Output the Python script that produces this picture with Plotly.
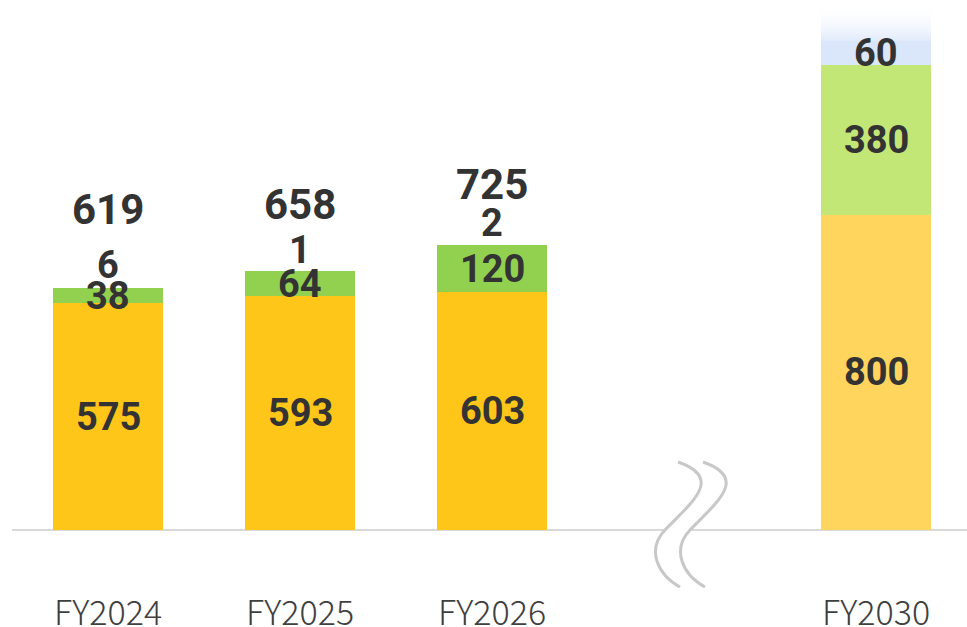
import plotly.graph_objects as go

# ── data ──────────────────────────────────────────────
years   = ["FY2024", "FY2025", "FY2026", "FY2030"]
x_pos   = [0, 1, 2, 4]            # gap at 3 for the axis break
base    = [575, 593, 603, 800]
growth  = [38, 64, 120, 380]
other   = [6, 1, 2, 60]
totals  = [619, 658, 725, None]

# ── style ─────────────────────────────────────────────
BASE_COLORS   = ["#FFC61A", "#FFC61A", "#FFC61A", "#FFD55E"]
GROWTH_COLORS = ["#92D050", "#92D050", "#92D050", "#C3E777"]
OTHER_COLORS  = ["rgba(0,0,0,0)"] * 3 + ["#DAE6FA"]
BAR_W   = 0.573
LABEL_C = "#333333"
SEG_FONT   = dict(family="Roboto", size=38, color=LABEL_C, weight="bold")
TOTAL_FONT = dict(family="Roboto", size=42, color=LABEL_C, weight="bold")

W, H = 967, 627
M_L, M_R, M_T, M_B = 12, 0, 0, 37
PX_PER_UNIT = 0.394
BASE_PX = 530                      # baseline pixel row
Y_TOP = BASE_PX / PX_PER_UNIT
Y_BOT = Y_TOP - (H - M_T - M_B) / PX_PER_UNIT
X_UNIT_PX = 192

fig = go.Figure()
for vals, cols, nm in [(base, BASE_COLORS, "base"),
                       (growth, GROWTH_COLORS, "growth"),
                       (other, OTHER_COLORS, "other")]:
    fig.add_trace(go.Bar(x=x_pos, y=vals, width=BAR_W, name=nm,
                         marker=dict(color=cols, line=dict(width=0)),
                         hoverinfo="skip", showlegend=False))

# faded top on the FY2030 target bar
top30 = base[-1] + growth[-1] + other[-1]
fade_h = 95
xc = x_pos[-1]
fig.add_trace(go.Scatter(
    x=[xc - BAR_W / 2, xc + BAR_W / 2, xc + BAR_W / 2, xc - BAR_W / 2, xc - BAR_W / 2],
    y=[top30, top30, top30 + fade_h, top30 + fade_h, top30],
    mode="lines", line=dict(width=0), fill="toself",
    fillgradient=dict(type="vertical", start=top30, stop=top30 + fade_h,
                      colorscale=[[0, "rgba(218,230,250,0.85)"], [1, "rgba(255,255,255,0)"]]),
    hoverinfo="skip", showlegend=False))

# ── labels ────────────────────────────────────────────
anns = []
TOTAL_SHIFT = [77, 66, 60]
for i, x in enumerate(x_pos):
    anns.append(dict(x=x, y=base[i] / 2, text=str(base[i]), font=SEG_FONT))
    anns.append(dict(x=x, y=base[i] + growth[i] / 2, text=str(growth[i]), font=SEG_FONT))
    top = base[i] + growth[i] + other[i]
    if totals[i] is None:
        anns.append(dict(x=x, y=top - other[i] / 2, text=str(other[i]), font=SEG_FONT))
    else:
        anns.append(dict(x=x, y=top, yshift=21, text=str(other[i]), font=SEG_FONT))
        anns.append(dict(x=x, y=top, yshift=TOTAL_SHIFT[i], text=str(totals[i]), font=TOTAL_FONT))
for a in anns:
    a.update(showarrow=False, xanchor="center", yanchor="middle")

# ── axis break symbol (two S curves) ─────────────────
def pt(px, py):
    return f"{(px - 108) / X_UNIT_PX:.4f},{(BASE_PX - py) / PX_PER_UNIT:.2f}"

def s_curve(dx=0, reverse=False):
    pts = [(678, 462), (724, 478), (692, 502), (665, 530),
           (646, 550), (658, 575), (680, 587)]
    pts = [(x + dx, y) for x, y in pts]
    if reverse:
        pts = pts[::-1]
    return pts

def bezier(p, start=True):
    head = f"M {pt(*p[0])} " if start else f"L {pt(*p[0])} "
    return head + f"C {pt(*p[1])} {pt(*p[2])} {pt(*p[3])} C {pt(*p[4])} {pt(*p[5])} {pt(*p[6])}"

p1 = bezier(s_curve(0))
p2 = bezier(s_curve(25))
fill_path = p1 + " " + bezier(s_curve(25, reverse=True), start=False) + " Z"

shapes = [
    dict(type="path", path=fill_path, xref="x", yref="y",
         fillcolor="white", line=dict(width=0)),
    dict(type="path", path=p1, xref="x", yref="y", line=dict(color="#C8C8C8", width=3)),
    dict(type="path", path=p2, xref="x", yref="y", line=dict(color="#C8C8C8", width=3)),
]

fig.update_layout(
    width=W, height=H,
    barmode="stack",
    plot_bgcolor="white", paper_bgcolor="white",
    margin=dict(l=M_L, r=M_R, t=M_T, b=M_B),
    annotations=anns, shapes=shapes,
    xaxis=dict(range=[-0.5, -0.5 + (W - M_L - M_R) / X_UNIT_PX],
               tickvals=x_pos, ticktext=years, automargin=False,
               tickfont=dict(family="Noto Sans CJK JP Light, Noto Sans CJK JP",
                             size=34, color="#404040", weight=300),
               showgrid=False, zeroline=False, showline=False, ticks=""),
    yaxis=dict(range=[Y_BOT, Y_TOP], showticklabels=False, showgrid=False, automargin=False,
               zeroline=True, zerolinecolor="#D9D9D9", zerolinewidth=2),
)

fig.write_html("out.html", config={"displayModeBar": False},
               post_script="document.body.style.margin='0px';document.body.style.overflow='hidden';")
